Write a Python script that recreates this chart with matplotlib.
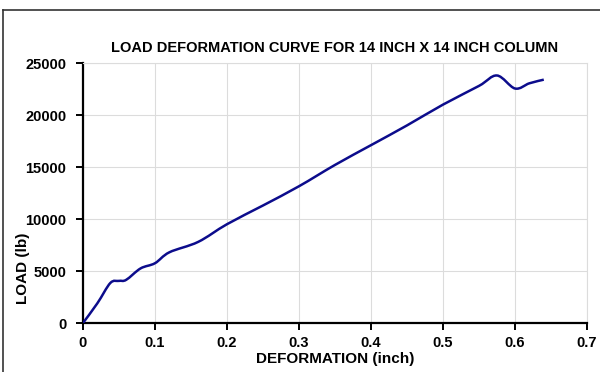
import matplotlib
matplotlib.use("Agg")
import matplotlib.pyplot as plt
from matplotlib.path import Path
from matplotlib.patches import PathPatch
import numpy as np

plt.rcParams['font.family'] = ['Liberation Sans', 'DejaVu Sans']
plt.rcParams['font.weight'] = 'bold'

# data
deformation = [0.0, 0.02, 0.038, 0.05, 0.06, 0.08, 0.1, 0.12, 0.16, 0.2, 0.25,
               0.3, 0.35, 0.4, 0.45, 0.5, 0.55, 0.575, 0.6, 0.62, 0.64]
load = [0, 1900, 3850, 4050, 4150, 5250, 5750, 6800, 7800, 9500, 11300,
        13150, 15200, 17100, 19000, 21000, 22800, 23800, 22550, 23050, 23400]

x_ticks = [0, 0.1, 0.2, 0.3, 0.4, 0.5, 0.6, 0.7]
x_labels = ['0', '0.1', '0.2', '0.3', '0.4', '0.5', '0.6', '0.7']
y_ticks = [0, 5000, 10000, 15000, 20000, 25000]

fig = plt.figure(figsize=(6, 3.72), dpi=100)
ax = fig.add_axes([0.1383, 0.1317, 0.8400, 0.6989])

# smoothed line like excel (catmull-rom as bezier segments)
x = np.array(deformation)
y = np.array(load)
verts = [(x[0], y[0])]
codes = [Path.MOVETO]
n = len(x)
for i in range(n - 1):
    p0 = np.array([x[max(i - 1, 0)], y[max(i - 1, 0)]])
    p1 = np.array([x[i], y[i]])
    p2 = np.array([x[i + 1], y[i + 1]])
    p3 = np.array([x[min(i + 2, n - 1)], y[min(i + 2, n - 1)]])
    c1 = p1 + (p2 - p0) / 6
    c2 = p2 - (p3 - p1) / 6
    verts += [tuple(c1), tuple(c2), tuple(p2)]
    codes += [Path.CURVE4] * 3
ax.add_patch(PathPatch(Path(verts, codes), facecolor='none',
                       edgecolor='#0c0c8c', lw=1.8, zorder=3))

ax.set_xlim(0, 0.7)
ax.set_ylim(0, 25000)
ax.set_xticks(x_ticks)
ax.set_xticklabels(x_labels)
ax.set_yticks(y_ticks)
ax.grid(True, color='#dcdcdc', lw=0.8)
ax.set_axisbelow(True)
for s in ['top', 'right']:
    ax.spines[s].set_color('#dcdcdc')
    ax.spines[s].set_linewidth(0.8)
for s in ['left', 'bottom']:
    ax.spines[s].set_color('black')
    ax.spines[s].set_linewidth(1.6)
ax.tick_params(axis='both', labelsize=10.5, width=1.4, length=5, color='black')
ax.tick_params(axis='y', pad=7)
ax.tick_params(axis='x', pad=4)

ax.set_title('LOAD DEFORMATION CURVE FOR 14 INCH X 14 INCH COLUMN',
             fontsize=10.5, fontweight='bold', pad=8)
ax.set_xlabel('DEFORMATION (inch)', fontsize=11, fontweight='bold', labelpad=2)
fig.text(0.038, 1 - 268 / 372, 'LOAD (lb)', rotation=90, fontsize=11,
         fontweight='bold', ha='center', va='center')

# chart area border (only left and top visible)
fig.add_artist(plt.Line2D([0.005, 0.005], [0, 0.973], color='#333333', lw=1.2,
                          transform=fig.transFigure))
fig.add_artist(plt.Line2D([0.005, 1.0], [0.973, 0.973], color='#333333', lw=1.2,
                          transform=fig.transFigure))

fig.savefig('out.png', dpi=100)
